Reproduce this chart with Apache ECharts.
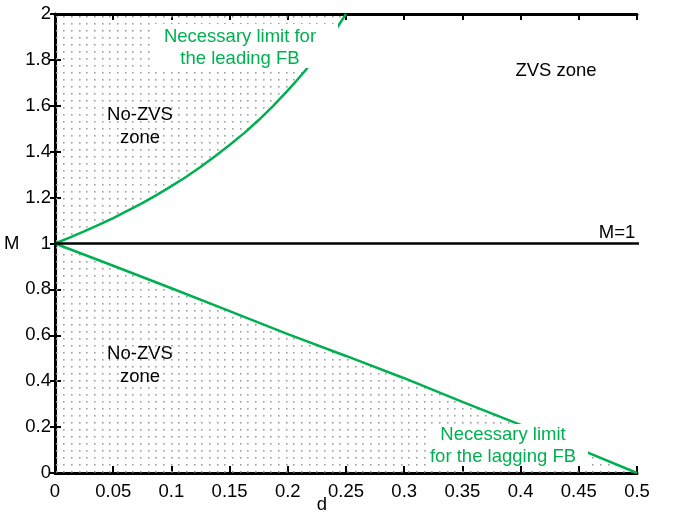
<!DOCTYPE html>
<html>
<head>
<meta charset="utf-8">
<script src="https://cdn.jsdelivr.net/npm/echarts@6/dist/echarts.min.js"></script>
<style>html,body{margin:0;padding:0;background:#fff}#c{width:674px;height:515px}</style>
</head>
<body>
<div id="c"></div>
<script>
// Data
const xTicks = [0, 0.05, 0.1, 0.15, 0.2, 0.25, 0.3, 0.35, 0.4, 0.45, 0.5];
const yTicks = [0, 0.2, 0.4, 0.6, 0.8, 1, 1.2, 1.4, 1.6, 1.8, 2];
const leadD = [0, 0.0125, 0.025, 0.0375, 0.05, 0.0625, 0.075, 0.0875, 0.1, 0.1125, 0.125, 0.1375, 0.15, 0.1625, 0.175, 0.1875, 0.2, 0.2075, 0.215, 0.225, 0.235, 0.242, 0.25];
const leadM = [1, 1.026, 1.053, 1.081, 1.111, 1.143, 1.176, 1.212, 1.25, 1.29, 1.333, 1.38, 1.429, 1.481, 1.538, 1.6, 1.667, 1.709, 1.754, 1.818, 1.887, 1.938, 2.0];
const lagD = [0, 0.05, 0.1, 0.15, 0.2, 0.25, 0.3, 0.35, 0.4, 0.45, 0.5];
const lagM = [1, 0.903, 0.805, 0.705, 0.605, 0.51, 0.413, 0.31, 0.21, 0.105, 0];
const refD = [0, 0.509];
const refM = [1, 1];

const GREEN = '#00b050';
const FONT = "'Liberation Sans', Arial, sans-serif";

// dotted pattern
const pc = document.createElement('canvas');
pc.width = 23; pc.height = 21;
const pctx = pc.getContext('2d');
pctx.fillStyle = '#a0a0a0';
for (let i = 0; i < 3; i++) for (let j = 0; j < 3; j++) {
  pctx.fillRect(Math.round(2 + i * 7.67), 2 + j * 7, 1.6, 1.6);
}

const zip = (a, b) => a.map((v, i) => [v, b[i]]);

const chart = echarts.init(document.getElementById('c'), null, {renderer: 'canvas'});
const grid = {left: 55, right: 37, top: 14, bottom: 42};
chart.setOption({
  animation: false,
  backgroundColor: '#fff',
  grid: grid,
  xAxis: [{
    type: 'value', min: xTicks[0], max: xTicks[xTicks.length - 1], interval: 0.05,
    position: 'bottom',
    axisLine: {onZero: false, lineStyle: {color: '#000', width: 3}},
    axisTick: {inside: true, length: 7, lineStyle: {color: '#000', width: 2}},
    axisLabel: {color: '#000', fontSize: 18.5, fontFamily: FONT, margin: 9},
    splitLine: {show: false}
  }, {
    type: 'value', min: xTicks[0], max: xTicks[xTicks.length - 1], interval: 0.05,
    position: 'top',
    axisLine: {onZero: false, lineStyle: {color: '#000', width: 3}},
    axisTick: {inside: true, length: 6, lineStyle: {color: '#000', width: 2}},
    axisLabel: {show: false},
    splitLine: {show: false}
  }],
  yAxis: [{
    type: 'value', min: yTicks[0], max: yTicks[yTicks.length - 1], interval: 0.2,
    position: 'left',
    name: 'M', nameLocation: 'middle', nameGap: 30, nameRotate: 0,
    nameTextStyle: {color: '#000', fontSize: 18.5, fontFamily: FONT},
    axisLine: {onZero: false, lineStyle: {color: '#000', width: 3}},
    axisTick: {inside: true, length: 6, lineStyle: {color: '#000', width: 2}},
    axisLabel: {color: '#000', fontSize: 18.5, fontFamily: FONT, margin: 4,
      formatter: v => String(Math.round(v * 10) / 10)},
    splitLine: {show: false}
  }, {
    type: 'value', min: yTicks[0], max: yTicks[yTicks.length - 1], interval: 0.2,
    position: 'left',
    axisLine: {show: false},
    axisTick: {inside: false, length: 5, lineStyle: {color: '#000', width: 2}},
    axisLabel: {show: false},
    splitLine: {show: false}
  }],
  series: [{
    type: 'line', name: 'lead', data: zip(leadD, leadM),
    xAxisIndex: 0, yAxisIndex: 0,
    showSymbol: false, smooth: false,
    lineStyle: {color: GREEN, width: 2.5},
    areaStyle: {origin: 'end', color: {image: pc, repeat: 'repeat'}, opacity: 1},
    z: 2
  }, {
    type: 'line', name: 'lag', data: zip(lagD, lagM),
    xAxisIndex: 0, yAxisIndex: 0,
    showSymbol: false, smooth: false,
    lineStyle: {color: GREEN, width: 2.5},
    areaStyle: {origin: 'start', color: {image: pc, repeat: 'repeat'}, opacity: 1},
    z: 2
  }, {
    type: 'line', name: 'M=1', data: zip(refD, refM),
    xAxisIndex: 0, yAxisIndex: 0, clip: false,
    showSymbol: false,
    lineStyle: {color: '#000', width: 2.5},
    z: 3
  }],
  graphic: [
    {type: 'rect', shape: {x: 155, y: 24, width: 183, height: 44}, style: {fill: '#fff'}, z: 100},
    {type: 'text', x: 240, y: 48, z: 101, style: {text: 'Necessary limit for\nthe leading FB', fill: GREEN, font: '18.5px ' + FONT, align: 'center', verticalAlign: 'middle', lineHeight: 22}},
    {type: 'rect', shape: {x: 430, y: 424, width: 158, height: 42}, style: {fill: '#fff'}, z: 100},
    {type: 'text', x: 503, y: 446, z: 101, style: {text: 'Necessary limit\nfor the lagging FB', fill: GREEN, font: '18.5px ' + FONT, align: 'center', verticalAlign: 'middle', lineHeight: 22}},
    {type: 'text', x: 140, y: 126, z: 101, style: {text: 'No-ZVS\nzone', fill: '#000', font: '18.5px ' + FONT, align: 'center', verticalAlign: 'middle', lineHeight: 23}},
    {type: 'text', x: 140, y: 365, z: 101, style: {text: 'No-ZVS\nzone', fill: '#000', font: '18.5px ' + FONT, align: 'center', verticalAlign: 'middle', lineHeight: 23}},
    {type: 'text', x: 556, y: 71, z: 101, style: {text: 'ZVS zone', fill: '#000', font: '18.5px ' + FONT, align: 'center', verticalAlign: 'middle'}},
    {type: 'text', x: 617, y: 233, z: 101, style: {text: 'M=1', fill: '#000', font: '18.5px ' + FONT, align: 'center', verticalAlign: 'middle'}},
    {type: 'text', x: 322, y: 505, z: 101, style: {text: 'd', fill: '#000', font: '18.5px ' + FONT, align: 'center', verticalAlign: 'middle'}}
  ]
});
</script>
</body>
</html>
